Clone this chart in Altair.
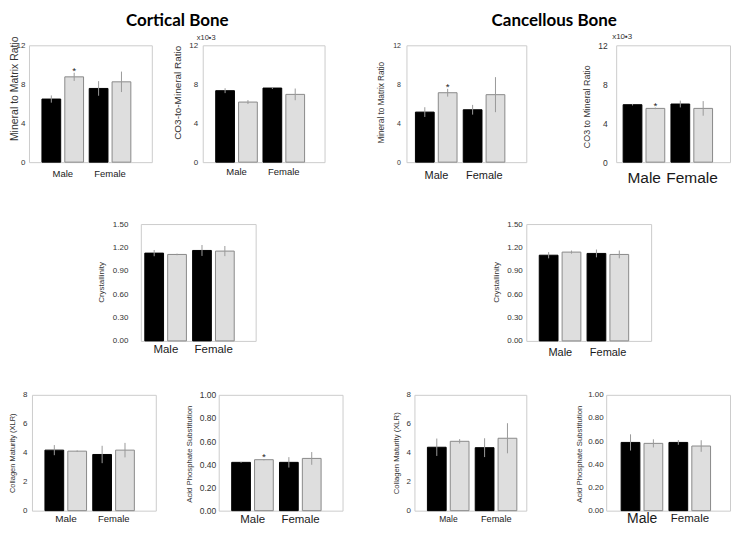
import altair as alt
import pandas as pd

sexes = ["Male", "Female"]
groups = ["Group 1", "Group 2"]

# order of each list: Male-G1 (black), Male-G2 (grey), Female-G1 (black), Female-G2 (grey)
cort_mm_val = [6.48, 8.76, 7.57, 8.25]
cort_mm_err = [0.37, 0.42, 0.75, 1.05]
cort_mm_star = [0, 1, 0, 0]

cort_co3_val = [7.34, 6.17, 7.61, 6.96]
cort_co3_err = [0.25, 0.2, 0.1, 0.6]
cort_co3_star = [0, 0, 0, 0]

canc_mm_val = [5.14, 7.13, 5.38, 6.93]
canc_mm_err = [0.5, 0.4, 0.5, 1.8]
canc_mm_star = [0, 1, 0, 0]

canc_co3_val = [5.9, 5.52, 5.97, 5.52]
canc_co3_err = [0.08, 0.08, 0.35, 0.75]
canc_co3_star = [0, 1, 0, 0]

cort_cry_val = [1.127, 1.11, 1.161, 1.153]
cort_cry_err = [0.04, 0.01, 0.07, 0.065]
cort_cry_star = [0, 0, 0, 0]

canc_cry_val = [1.10, 1.14, 1.123, 1.11]
canc_cry_err = [0.04, 0.02, 0.05, 0.05]
canc_cry_star = [0, 0, 0, 0]

cort_col_val = [4.18, 4.11, 3.88, 4.18]
cort_col_err = [0.35, 0.05, 0.6, 0.5]
cort_col_star = [0, 0, 0, 0]

cort_aps_val = [0.417, 0.44, 0.417, 0.451]
cort_aps_err = [0.004, 0.005, 0.045, 0.055]
cort_aps_star = [0, 1, 0, 0]

canc_col_val = [4.38, 4.79, 4.35, 5.0]
canc_col_err = [0.6, 0.15, 0.65, 1.04]
canc_col_star = [0, 0, 0, 0]

canc_aps_val = [0.589, 0.581, 0.589, 0.558]
canc_aps_err = [0.07, 0.035, 0.02, 0.05]
canc_aps_star = [0, 0, 0, 0]

ticks_12 = [0, 4, 8, 12]
ticks_cry = [0.0, 0.3, 0.6, 0.9, 1.2, 1.5]
ticks_8 = [0, 2, 4, 6, 8]
ticks_1 = [0.0, 0.2, 0.4, 0.6, 0.8, 1.0]

FONT = "Liberation Sans"
H = 117
H3 = 116


def sized(male, female):
    return {"condition": {"test": "datum.value == 'Male'", "value": male}, "value": female}


def panel(vals, errs, stars, ymax, ticks, fmt, ytitle, W, L, R, ytfs, tx, ty,
          ylfs, ylpad, xlfs, xlpad, top_title=None, h=H):
    df = pd.DataFrame({
        "sex": [s for s in sexes for _ in groups],
        "grp": groups * 2,
        "val": vals,
        "err": errs,
        "star": stars,
    })
    df["lo"] = df["val"] - df["err"]
    df["hi"] = df["val"] + df["err"]
    pi = 0.12
    step = (W - L - R) / (2 - pi)
    po = (W / step - (2 - pi)) / 2
    al = L / (L + R)
    xs = alt.Scale(domain=sexes, paddingInner=pi, paddingOuter=po, align=al)
    xo = alt.Scale(domain=groups, paddingInner=0.18, paddingOuter=0)
    ys = alt.Scale(domain=[0, ymax], nice=False)
    xaxis = alt.Axis(title=None, labelAngle=0, labelFontSize=xlfs, labelPadding=xlpad,
                     labelBaseline="middle", labelColor="#1a1a1a")
    yaxis = alt.Axis(title=ytitle, values=ticks, format=fmt, labelFontSize=ylfs,
                     labelPadding=ylpad, titleFontSize=ytfs, titleX=tx, titleY=ty,
                     titleBaseline="middle", titleAlign="center")
    base = alt.Chart(df)
    bars = base.mark_bar(strokeWidth=1).encode(
        x=alt.X("sex:N", scale=xs, axis=xaxis, sort=sexes),
        xOffset=alt.XOffset("grp:N", scale=xo, sort=groups),
        y=alt.Y("val:Q", scale=ys, axis=yaxis),
        fill=alt.Fill("grp:N", scale=alt.Scale(domain=groups, range=["#000000", "#dedede"]), legend=None),
        stroke=alt.Stroke("grp:N", scale=alt.Scale(domain=groups, range=["#000000", "#8a8a8a"]), legend=None),
    )
    rules = base.mark_rule(color="#9a9a9a", strokeWidth=1).encode(
        x=alt.X("sex:N", axis=xaxis, sort=sexes),
        xOffset=alt.XOffset("grp:N", sort=groups),
        y=alt.Y("lo:Q", axis=yaxis),
        y2="hi:Q",
    )
    star = base.transform_filter("datum.star == 1").mark_text(
        text="*", fontSize=10, dy=-2, baseline="middle", color="#222222"
    ).encode(
        x=alt.X("sex:N", axis=xaxis, sort=sexes),
        xOffset=alt.XOffset("grp:N", sort=groups),
        y=alt.Y("hi:Q", axis=yaxis),
    )
    ch = alt.layer(bars, rules, star).properties(width=W, height=h)
    if top_title is not None:
        ch = ch.properties(title=top_title)
    return ch


def spacer(w, h=1, title=None):
    sp = alt.Chart(pd.DataFrame({"v": [0]})).mark_point(opacity=0).properties(
        width=w, height=h, view=alt.ViewBackground(stroke="transparent"))
    if title is not None:
        sp = sp.properties(title=title)
    return sp


def x10(dx, dy, fs):
    return alt.TitleParams("x10\u25aa3", anchor="start", frame="group", fontSize=fs,
                           fontWeight="normal", font=FONT, color="#333333",
                           offset=0, dx=dx, dy=dy, baseline="bottom")


def group_title(text, dx):
    return alt.TitleParams(text, font="Lato", fontSize=17, fontWeight="bold", color="#000000",
                           anchor="middle", frame="group", offset=0, dx=dx, dy=4, baseline="bottom")


p1 = panel(cort_mm_val, cort_mm_err, cort_mm_star, 12, ticks_12, "d", "Mineral to Matrix Ratio",
           123, 13, 21, 10.5, -14.5, 43, 8, 4, 9.5, 11)
p2 = panel(cort_co3_val, cort_co3_err, cort_co3_star, 12, ticks_12, "d", "CO3-to-Mineral Ratio",
           122, 13, 20, 10, -25, 47, 8, 5, 9.5, 9, top_title=x10(-6, 8, 7.5))
p3 = panel(canc_mm_val, canc_mm_err, canc_mm_star, 12, ticks_12, "d", "Mineral to Matrix Ratio",
           120, 9, 21, 8.2, -25, 57, 7, 6, 11, 13)
p4 = panel(canc_co3_val, canc_co3_err, canc_co3_star, 12, ticks_12, "d", "CO3 to Mineral Ratio",
           114, 7, 17, 8.9, -30, 61, 8.5, 9, 15.5, 15, top_title=x10(-4, 8, 8))
p5 = panel(cort_cry_val, cort_cry_err, cort_cry_star, 1.5, ticks_cry, ".2f", "Crystallinity",
           115, 4, 21, 8, -39, 58, 8, 13, 11.5, 9)
p6 = panel(canc_cry_val, canc_cry_err, canc_cry_star, 1.5, ticks_cry, ".2f", "Crystallinity",
           125, 13, 22, 8, -30, 58, 8, 4, 11, 12)
p7 = panel(cort_col_val, cort_col_err, cort_col_star, 8, ticks_8, "d", "Collagen Maturity (XLR)",
           124, 13, 21, 7.5, -19, 58, 8, 5, sized(10, 9.5), 8, h=H3)
p8 = panel(cort_aps_val, cort_aps_err, cort_aps_star, 1.0, ticks_1, ".2f", "Acid Phosphate Substitution",
           124, 13, 21, 7.8, -29, 59, 8.5, 3, 11.5, 9, h=H3)
p9 = panel(canc_col_val, canc_col_err, canc_col_star, 8, ticks_8, "d", "Collagen Maturity (XLR)",
           112, 13, 9, 7.7, -18, 58, 8, 4, sized(8.5, 9.2), 8, h=H3)
p10 = panel(canc_aps_val, canc_aps_err, canc_aps_star, 1.0, ticks_1, ".2f", "Acid Phosphate Substitution",
            124, 15, 19, 7.8, -27, 59, 8, 3, sized(14, 11.5), 8, h=H3)

row1 = alt.hconcat(
    spacer(20, 173), p1, spacer(51, 1, group_title("Cortical Bone", 0)), p2, spacer(82), p3,
    spacer(90, 1, group_title("Cancellous Bone", -17)), p4,
    spacing=0, bounds="flush")
row2 = alt.hconcat(spacer(132, 164.75), p5, spacer(271), p6, spacing=0, bounds="flush")
row3 = alt.hconcat(spacer(23, 100), p7, spacer(63), p8, spacer(72), p9, spacer(80), p10,
                   spacing=0, bounds="flush")

chart = alt.vconcat(row1, row2, row3, spacing=0).properties(
    padding={"top": 3, "left": 0, "right": 0, "bottom": 0}
).configure(font=FONT).configure_view(
    stroke="#cccccc", strokeWidth=1
).configure_axis(
    grid=False, ticks=False, tickSize=0, domain=False, labelColor="#333333",
    titleColor="#333333", labelFont=FONT, titleFont=FONT, titleFontWeight="normal"
)

chart.save("out.html", embed_options={"renderer": "svg", "actions": False})
